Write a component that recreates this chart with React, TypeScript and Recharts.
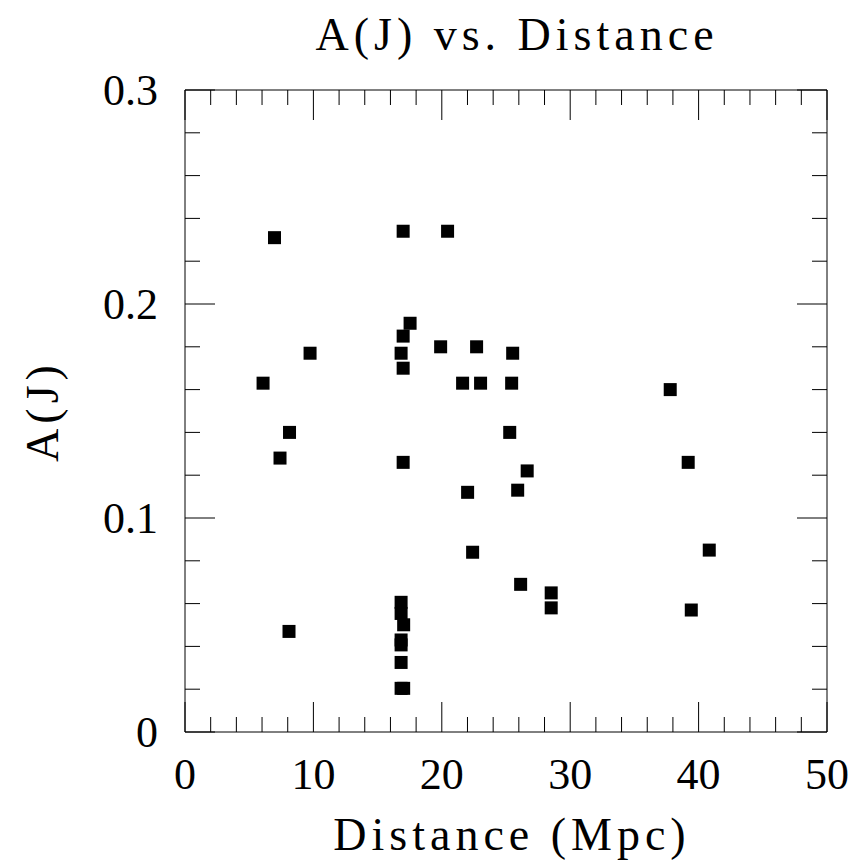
import React from 'react';
import { ScatterChart, Scatter, XAxis, YAxis, Label } from 'recharts';

const distance = [
  6.97, 6.08, 7.40, 8.14, 9.74, 8.10,
  16.99, 20.45, 17.53, 16.99, 16.83, 16.99, 16.99,
  19.91, 22.71, 21.62, 23.02, 25.52, 25.44, 25.29, 26.65,
  22.01, 25.91, 22.40, 26.14, 28.52, 28.52,
  37.79, 39.19, 40.83, 39.43,
  16.83, 16.83, 17.03, 16.83, 16.83, 16.83, 16.83, 17.03,
];
const extinction = [
  0.231, 0.163, 0.128, 0.140, 0.177, 0.047,
  0.234, 0.234, 0.191, 0.185, 0.177, 0.170, 0.126,
  0.180, 0.180, 0.163, 0.163, 0.177, 0.163, 0.140, 0.122,
  0.112, 0.113, 0.084, 0.069, 0.065, 0.058,
  0.160, 0.126, 0.085, 0.057,
  0.0606, 0.0554, 0.0501, 0.043, 0.0407, 0.0325, 0.0204, 0.0204,
];
const xTicks = [0, 2, 4, 6, 8, 10, 12, 14, 16, 18, 20, 22, 24, 26, 28, 30, 32, 34, 36, 38, 40, 42, 44, 46, 48, 50];
const yTicks = [0, 0.02, 0.04, 0.06, 0.08, 0.1, 0.12, 0.14, 0.16, 0.18, 0.2, 0.22, 0.24, 0.26, 0.28, 0.3];
const xLabels = ['0', '10', '20', '30', '40', '50'];
const yLabels = ['0', '0.1', '0.2', '0.3'];

const data = distance.map((d, i) => ({ d, a: extinction[i] }));

const FONT = '"Liberation Serif", "Times New Roman", serif';
const MAJOR = 30;
const MINOR = 15;

const isMajorX = (v: number) => Math.abs(v / 10 - Math.round(v / 10)) < 1e-6;
const isMajorY = (v: number) => Math.abs(v * 10 - Math.round(v * 10)) < 1e-6;

const BottomTick = (props: any) => {
  const { x, y, payload } = props;
  const v = payload.value;
  const major = isMajorX(v);
  const label = xLabels.find((l) => Math.abs(Number(l) - v) < 1e-6);
  return (
    <g>
      <line x1={x} y1={y} x2={x} y2={y - (major ? MAJOR : MINOR)} stroke="#000" strokeWidth={1} />
      {major && label !== undefined && (
        <text x={x} y={y + 57} textAnchor="middle" fontFamily={FONT} fontSize={44} fill="#000">
          {label}
        </text>
      )}
    </g>
  );
};

const TopTick = (props: any) => {
  const { x, y, payload } = props;
  const major = isMajorX(payload.value);
  return <line x1={x} y1={y} x2={x} y2={y + (major ? MAJOR : MINOR)} stroke="#000" strokeWidth={1} />;
};

const LeftTick = (props: any) => {
  const { x, y, payload } = props;
  const v = payload.value;
  const major = isMajorY(v);
  const label = yLabels.find((l) => Math.abs(Number(l) - v) < 1e-6);
  return (
    <g>
      <line x1={x} y1={y} x2={x + (major ? MAJOR : MINOR)} y2={y} stroke="#000" strokeWidth={1} />
      {major && label !== undefined && (
        <text x={x - 27} y={y + 15} textAnchor="end" fontFamily={FONT} fontSize={44} fill="#000">
          {label}
        </text>
      )}
    </g>
  );
};

const RightTick = (props: any) => {
  const { x, y, payload } = props;
  const major = isMajorY(payload.value);
  return <line x1={x} y1={y} x2={x - (major ? MAJOR : MINOR)} y2={y} stroke="#000" strokeWidth={1} />;
};

const Square = (props: any) => {
  const { cx, cy } = props;
  if (cx == null || cy == null) return null;
  return <rect x={cx - 6.5} y={cy - 6.5} width={13} height={13} fill="#000" />;
};

const Nothing = () => null;

export default function App() {
  return (
    <div style={{ position: 'absolute', left: 0, top: 0, width: 859, height: 867, background: '#fff' }}>
      <ScatterChart width={859} height={867} margin={{ top: 89, right: 31, bottom: 0, left: 0 }}>
        <XAxis
          xAxisId="bottom"
          dataKey="d"
          type="number"
          orientation="bottom"
          domain={[0, 50]}
          ticks={xTicks}
          interval={0}
          height={135}
          tickSize={0}
          tickMargin={0}
          tickLine={false}
          axisLine={{ stroke: '#000', strokeWidth: 1 }}
          tick={<BottomTick />}
        >
          <Label
            content={(p: any) => {
              const vb = p.viewBox || {};
              return (
                <text
                  x={vb.x + vb.width / 2 + 6}
                  y={vb.y + 118}
                  textAnchor="middle"
                  fontFamily={FONT}
                  fontSize={46}
                  letterSpacing={5}
                  fill="#000"
                >
                  Distance (Mpc)
                </text>
              );
            }}
          />
        </XAxis>
        <XAxis
          xAxisId="top"
          dataKey="d"
          type="number"
          orientation="top"
          domain={[0, 50]}
          ticks={xTicks}
          interval={0}
          height={1}
          tickSize={0}
          tickMargin={0}
          tickLine={false}
          axisLine={{ stroke: '#000', strokeWidth: 1 }}
          tick={<TopTick />}
        >
          <Label
            content={(p: any) => {
              const vb = p.viewBox || {};
              return (
                <text
                  x={vb.x + vb.width / 2 + 11}
                  y={vb.y - 39}
                  textAnchor="middle"
                  fontFamily={FONT}
                  fontSize={46}
                  letterSpacing={5}
                  fill="#000"
                >
                  A(J) vs. Distance
                </text>
              );
            }}
          />
        </XAxis>
        <YAxis
          yAxisId="left"
          dataKey="a"
          type="number"
          orientation="left"
          domain={[0, 0.3]}
          ticks={yTicks}
          interval={0}
          width={185}
          tickSize={0}
          tickMargin={0}
          tickLine={false}
          axisLine={{ stroke: '#000', strokeWidth: 1 }}
          tick={<LeftTick />}
        >
          <Label
            content={(p: any) => {
              const vb = p.viewBox || {};
              const cx = vb.x + 58;
              const cy = vb.y + vb.height / 2;
              return (
                <text
                  x={cx}
                  y={cy}
                  transform={`rotate(-90, ${cx}, ${cy})`}
                  textAnchor="middle"
                  fontFamily={FONT}
                  fontSize={46}
                  letterSpacing={5}
                  fill="#000"
                >
                  A(J)
                </text>
              );
            }}
          />
        </YAxis>
        <YAxis
          yAxisId="right"
          dataKey="a"
          type="number"
          orientation="right"
          domain={[0, 0.3]}
          ticks={yTicks}
          interval={0}
          width={1}
          tickSize={0}
          tickMargin={0}
          tickLine={false}
          axisLine={{ stroke: '#000', strokeWidth: 1 }}
          tick={<RightTick />}
        />
        <Scatter
          xAxisId="top"
          yAxisId="right"
          data={data}
          shape={<Nothing />}
          isAnimationActive={false}
          legendType="none"
        />
        <Scatter
          xAxisId="bottom"
          yAxisId="left"
          data={data}
          shape={<Square />}
          isAnimationActive={false}
        />
      </ScatterChart>
    </div>
  );
}
